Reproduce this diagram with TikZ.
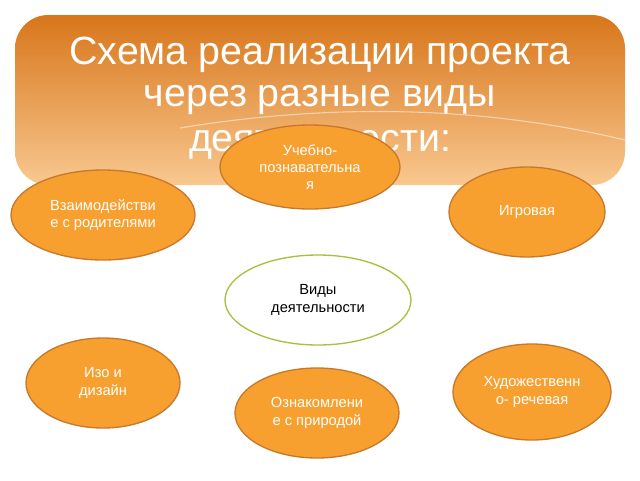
\documentclass[tikz,border=0pt]{standalone}
\usepackage{fontspec}
\setmainfont{Liberation Sans}
\definecolor{ofill}{HTML}{F7A030}
\definecolor{oline}{HTML}{C8782A}
\definecolor{gline}{HTML}{A8C040}
\definecolor{btop}{HTML}{D8761A}
\definecolor{bbot}{HTML}{F9C890}
\begin{document}
\begin{tikzpicture}[x=0.75pt,y=-0.75pt,
  oval/.style={ellipse,fill=ofill,draw=oline,line width=1pt,text=white,font=\fontsize{11}{13}\selectfont,align=center,inner sep=0pt},
  title/.style={text=white,font=\fontsize{29.5}{34}\selectfont}]
\usetikzlibrary{shapes.geometric}
\useasboundingbox (0,0) rectangle (640,480);
\fill[white] (0,0) rectangle (640,480);
\shade[top color=btop,bottom color=bbot,rounded corners=25pt] (15,15) rectangle (625,185);
\draw[white,opacity=0.5,line width=0.8pt] (180,128) .. controls (350,100) and (500,110) .. (625,140);
\node[title] (t1) at (320,55) {Схема реализации проекта};
\node[title] (t2) at (320,100) {через разные виды};
\node[title] (t3) at (320,145) {деятельности:};
\node[oval,minimum width=180pt*0.75,minimum height=84pt*0.75] (a) at (310,167) {Учебно-\\познавательна\\я};
\node[oval,minimum width=184pt*0.75,minimum height=90pt*0.75] (b) at (103,215) {Взаимодействи\\е с родителями};
\node[oval,minimum width=156pt*0.75,minimum height=90pt*0.75] (c) at (527,212) {Игровая};
\node[ellipse,fill=white,draw=gline,line width=1pt,align=center,inner sep=0pt,font=\fontsize{11}{13}\selectfont,minimum width=186pt*0.75,minimum height=90pt*0.75] (d) at (318,300) {Виды\\деятельности};
\node[oval,minimum width=154pt*0.75,minimum height=90pt*0.75] (e) at (103,383) {Изо и\\дизайн};
\node[oval,minimum width=164pt*0.75,minimum height=90pt*0.75] (f) at (317,413) {Ознакомлени\\е с природой};
\node[oval,minimum width=158pt*0.75,minimum height=96pt*0.75] (g) at (532,392) {Художественн\\о- речевая};
\end{tikzpicture}
\end{document}
